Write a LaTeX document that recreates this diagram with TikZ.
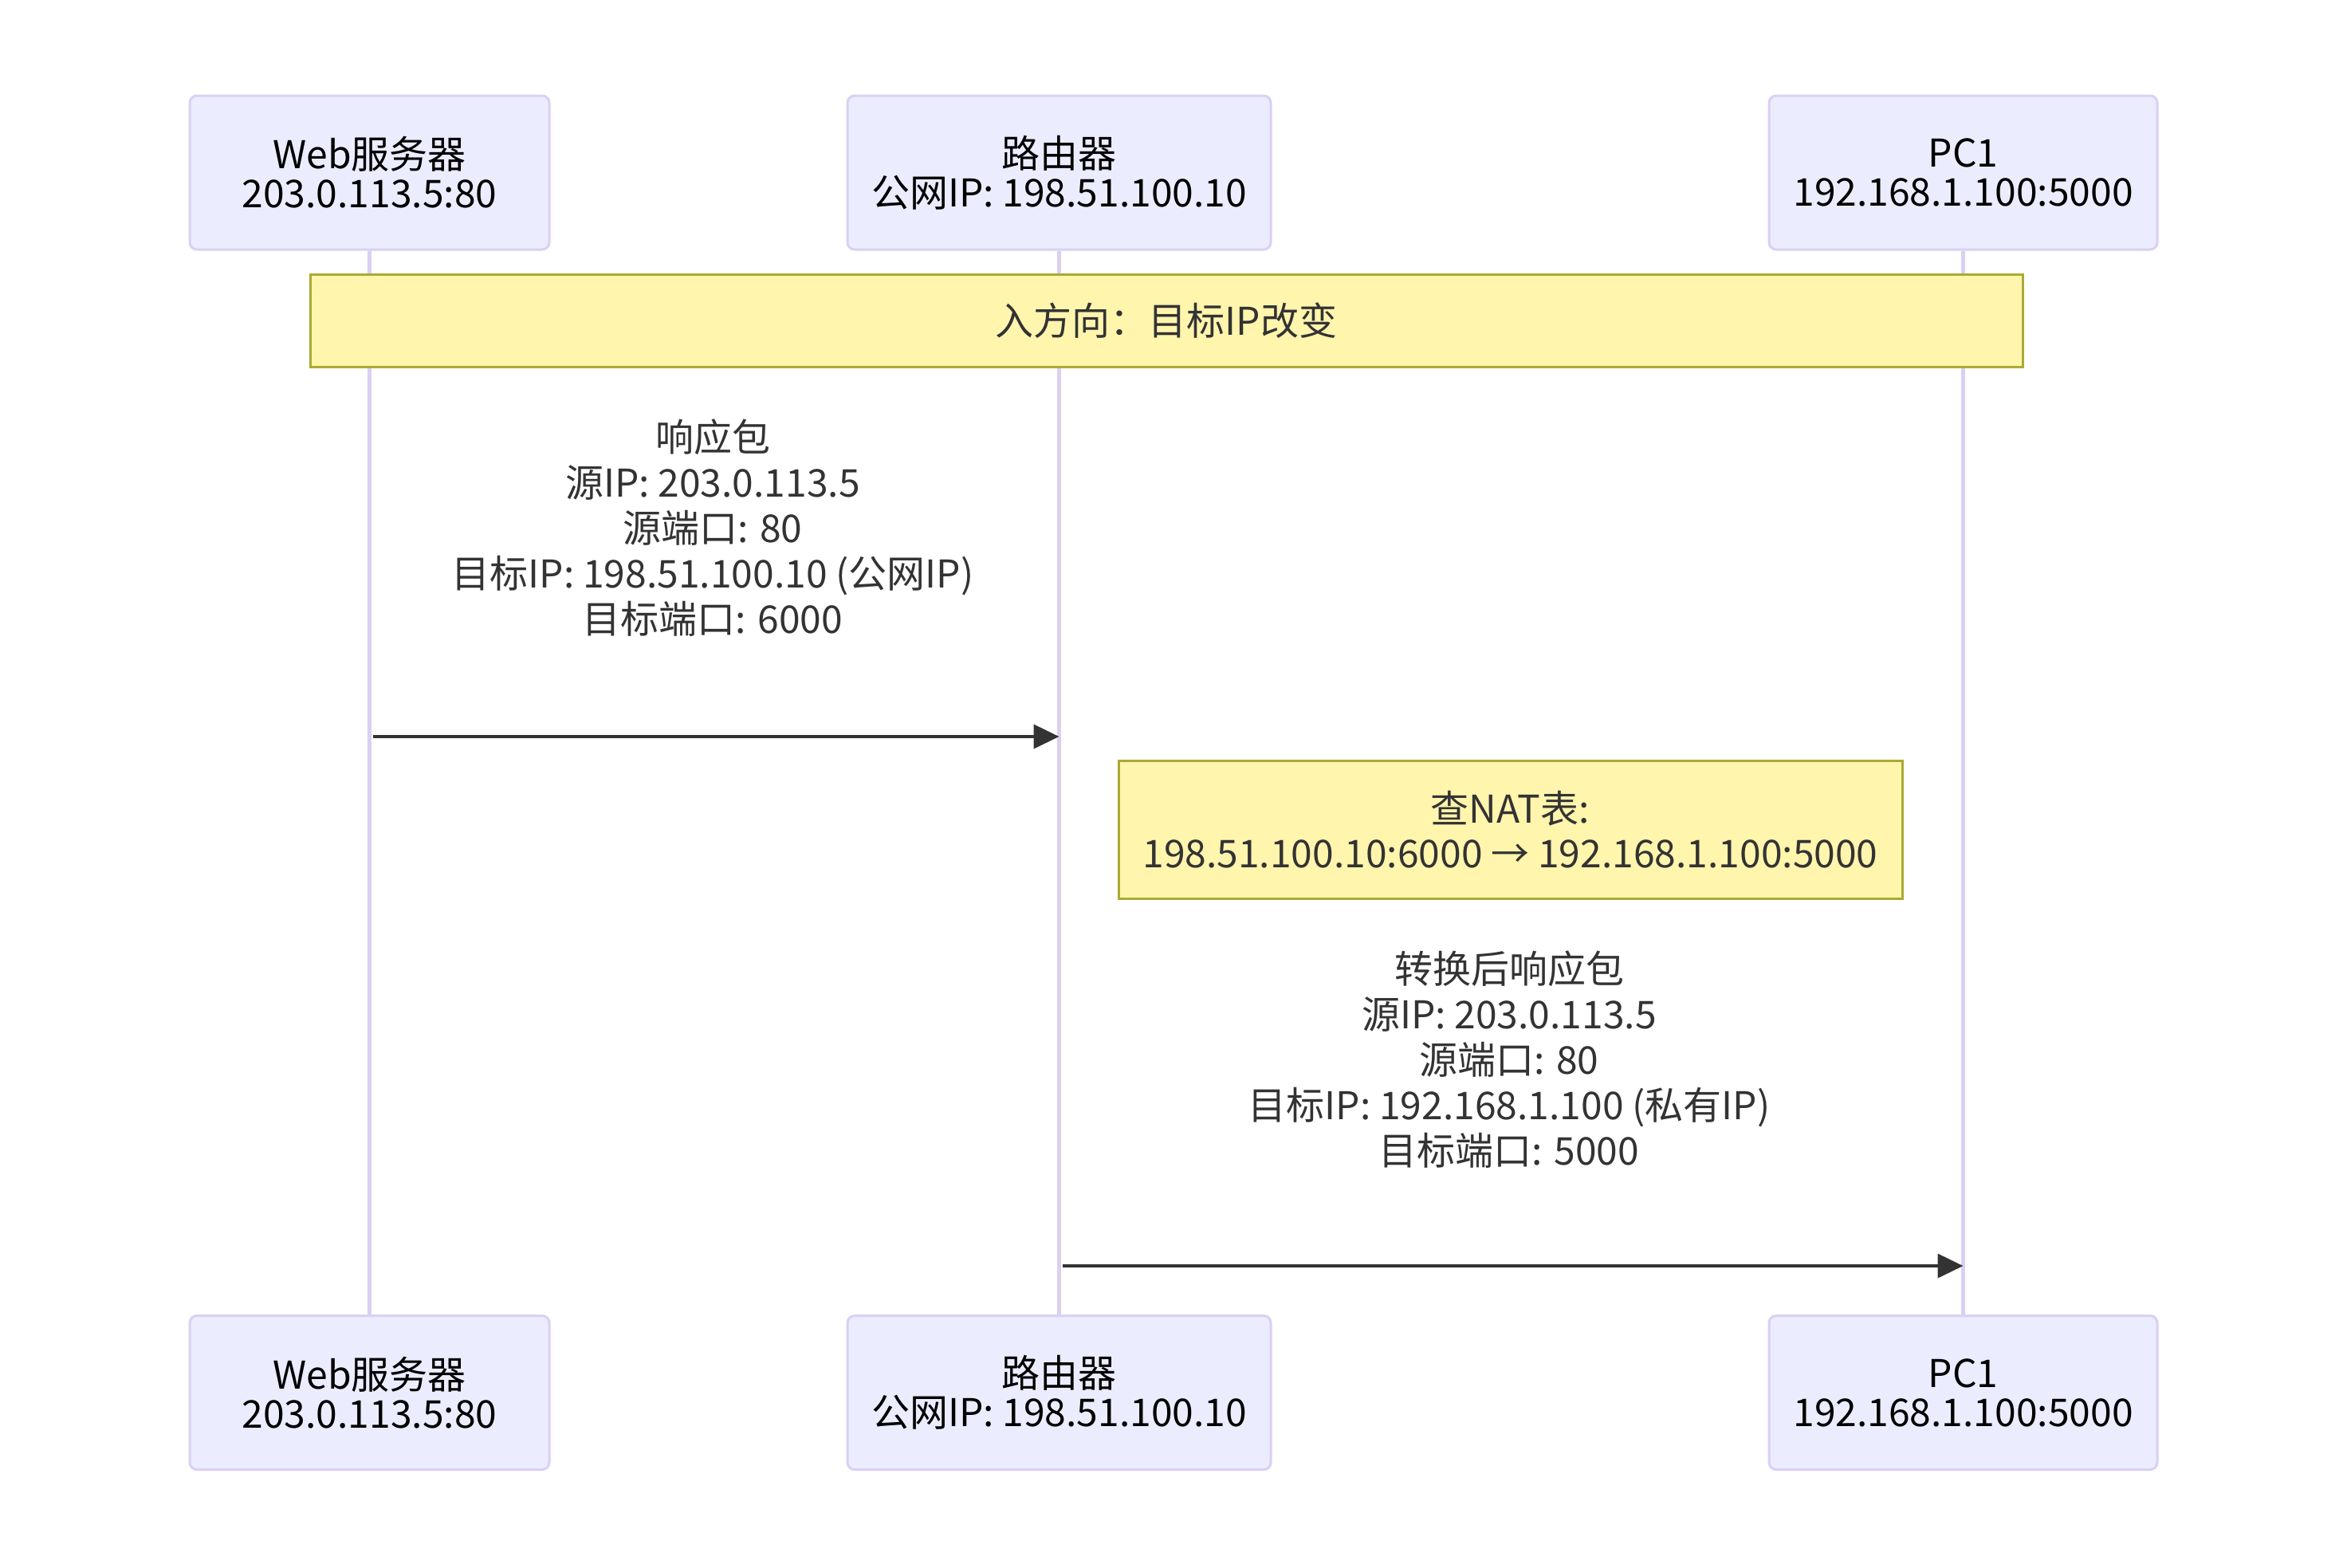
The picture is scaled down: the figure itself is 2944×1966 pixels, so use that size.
\documentclass[tikz,border=0pt]{standalone}
\usepackage{fontspec}
\setmainfont{Noto Sans CJK SC}
\usetikzlibrary{arrows.meta}
\definecolor{actfill}{HTML}{ECECFF}
\definecolor{actline}{HTML}{DAD0F3}
\definecolor{notefill}{HTML}{FFF5AD}
\definecolor{noteline}{HTML}{AAAA33}
\definecolor{msgcol}{HTML}{333333}
\tikzset{
  actor/.style={draw=actline, fill=actfill, line width=3pt, rounded corners=9pt,
    inner sep=0pt, align=center, text=black,
    font=\fontsize{48}{49}\selectfont},
  notebox/.style={draw=noteline, fill=notefill, line width=3pt, inner sep=0pt,
    align=center, text=msgcol, font=\fontsize{48}{56}\selectfont},
  msgtext/.style={align=center, text=msgcol, inner sep=0pt,
    font=\fontsize{48}{57}\selectfont},
  lifeline/.style={draw=actline, line width=5.5pt},
  msgarrow/.style={draw=msgcol, line width=4pt, -{Triangle[length=32pt,width=30pt]}}
}
\begin{document}
\begin{tikzpicture}[x=1pt,y=-1pt]
\useasboundingbox[fill=white] (0,0) rectangle (2944,1966);
% actors top
\node[actor, minimum width=451pt, minimum height=193pt] (web) at (463.5,216.5) {Web服务器\\203.0.113.5:80};
\node[actor, minimum width=531pt, minimum height=193pt] (rt) at (1328.5,216.5) {路由器\\公网IP: 198.51.100.10};
\node[actor, minimum width=487pt, minimum height=193pt] (pc) at (2462.5,216.5) {PC1\\192.168.1.100:5000};
% actors bottom
\node[actor, minimum width=451pt, minimum height=193pt] (webB) at (463.5,1747) {Web服务器\\203.0.113.5:80};
\node[actor, minimum width=531pt, minimum height=193pt] (rtB) at (1328.5,1747) {路由器\\公网IP: 198.51.100.10};
\node[actor, minimum width=487pt, minimum height=193pt] (pcB) at (2462.5,1747) {PC1\\192.168.1.100:5000};
% lifelines
\draw[lifeline] (web.south) -- (webB.north);
\draw[lifeline] (rt.south) -- (rtB.north);
\draw[lifeline] (pc.south) -- (pcB.north);
% top note
\node[notebox, minimum width=2148pt, minimum height=116pt] (n1) at (1463,402) {入方向：目标IP改变};
% message 1
\node[msgtext] (m1) at (894,662.5) {响应包\\源IP: 203.0.113.5\\源端口: 80\\目标IP: 198.51.100.10 (公网IP)\\目标端口: 6000};
\coordinate (a1s) at ([xshift=4pt]web.south |- 0,924);
\coordinate (a1e) at (rt.south |- 0,924);
\draw[msgarrow] (a1s) -- (a1e);
% NAT note
\node[notebox, minimum width=983pt, minimum height=173pt] (n2) at (1894.5,1040.5) {查NAT表:\\198.51.100.10:6000 → 192.168.1.100:5000};
% message 2
\node[msgtext] (m2) at (1893,1329.5) {转换后响应包\\源IP: 203.0.113.5\\源端口: 80\\目标IP: 192.168.1.100 (私有IP)\\目标端口: 5000};
\coordinate (a2s) at ([xshift=4pt]rt.south |- 0,1588);
\coordinate (a2e) at (pc.south |- 0,1588);
\draw[msgarrow] (a2s) -- (a2e);
\end{tikzpicture}
\end{document}
